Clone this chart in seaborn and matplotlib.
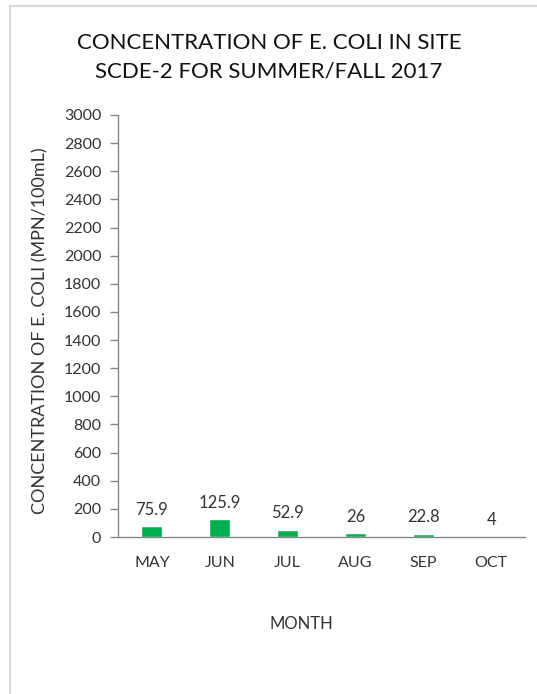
import matplotlib
matplotlib.use("Agg")
import matplotlib.pyplot as plt
import seaborn as sns
import pandas as pd
from matplotlib.patches import Rectangle

# E. coli concentration per sampling month
months = ["MAY", "JUN", "JUL", "AUG", "SEP", "OCT"]
ecoli = [75.9, 125.9, 52.9, 26, 22.8, 4]
y_ticks = list(range(0, 3001, 200))

df = pd.DataFrame({"month": months, "ecoli": ecoli})

sns.set_theme(style="white")
plt.rcParams["font.family"] = ["Lato", "DejaVu Sans"]

text_color = "#333333"
axis_color = "#868686"

fig = plt.figure(figsize=(5.37, 6.94), dpi=100)
ax = fig.add_axes([0.2197, 0.2262, 0.758, 0.6081])

sns.barplot(data=df, x="month", y="ecoli", color="#00B050", width=0.31,
            saturation=1, ax=ax)

ax.set_ylim(0, 3000)
ax.set_xlim(-0.5, len(months) - 0.5)
ax.set_yticks(y_ticks)
ax.set_yticklabels([str(t) for t in y_ticks], fontsize=11.5, color=text_color)
ax.tick_params(axis="y", direction="out", length=6, width=1, color=axis_color, pad=6, left=True)
ax.tick_params(axis="x", length=0, pad=14, labelsize=11.5, labelcolor=text_color)

for side in ["top", "right"]:
    ax.spines[side].set_visible(False)
for side in ["left", "bottom"]:
    ax.spines[side].set_color(axis_color)
    ax.spines[side].set_linewidth(1)

ax.bar_label(ax.containers[0], labels=[f"{v:g}" for v in ecoli], padding=6,
             fontsize=12, color=text_color)

ax.set_xlabel("MONTH", fontsize=12, color=text_color)
ax.xaxis.set_label_coords(0.45, -0.187)
ax.set_ylabel("CONCENTRATION OF E. COLI (MPN/100mL)", fontsize=13,
              color=text_color)
ax.yaxis.set_label_coords(-0.172, 0.49)

fig.text(0.501, 0.918, "CONCENTRATION OF E. COLI IN SITE\nSCDE-2 FOR SUMMER/FALL 2017",
         ha="center", va="center", fontsize=16, color="#111111", linespacing=1.55)

# light frame around the chart area
fig.patches.append(Rectangle((9.5 / 537, -0.05), 1.2, 1 - 5.5 / 694 + 0.05,
                             transform=fig.transFigure, fill=False,
                             edgecolor="#d9d9d9", linewidth=1.5))

fig.savefig("out.png", dpi=100, facecolor="white")
